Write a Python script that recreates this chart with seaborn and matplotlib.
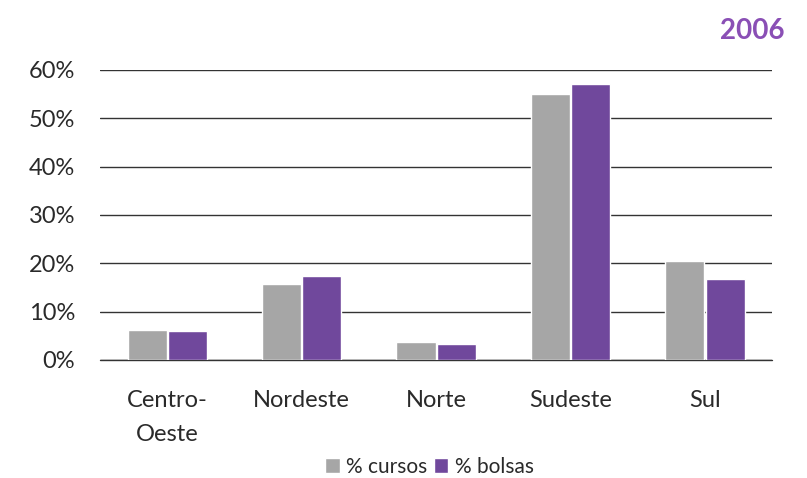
import matplotlib
matplotlib.use("Agg")
import matplotlib.pyplot as plt
import seaborn as sns
import pandas as pd

regioes = ["Centro-\nOeste", "Nordeste", "Norte", "Sudeste", "Sul"]
cursos = [6.2, 15.7, 3.8, 55.0, 20.4]
bolsas = [6.0, 17.3, 3.2, 57.0, 16.8]
series = ["% cursos", "% bolsas"]
ano = "2006"

df = pd.DataFrame({
    "regiao": regioes * 2,
    "valor": cursos + bolsas,
    "serie": [series[0]] * len(regioes) + [series[1]] * len(regioes),
})

sns.set_style("white")
plt.rcParams["font.family"] = ["Lato", "DejaVu Sans"]

fig = plt.figure(figsize=(8.07, 4.78), dpi=100)
ax = fig.add_axes([0.124, 0.247, 0.833, 0.607])

sns.barplot(data=df, x="regiao", y="valor", hue="serie", ax=ax,
            palette=["#a6a6a6", "#70489c"], width=0.6, gap=0.03,
            saturation=1, legend=True)

ax.set_ylim(0, 60)
ax.set_yticks(range(0, 61, 10))
ax.set_yticklabels([f"{v}%" for v in range(0, 61, 10)])
ax.yaxis.grid(True, color="#333333", linewidth=1)
ax.axhline(0, color="#333333", linewidth=1, clip_on=False, zorder=0.5)
ax.set_axisbelow(True)
for s in ax.spines.values():
    s.set_visible(False)
ax.set_xlabel("")
ax.set_ylabel("")
ax.tick_params(axis="both", length=0, labelsize=17, colors="#2a2a2a")
ax.tick_params(axis="x", pad=22)
ax.tick_params(axis="y", pad=18)
for lbl in ax.get_xticklabels():
    lbl.set_linespacing(1.75)

ax.legend(loc="upper center", bbox_to_anchor=(0.49, -0.27), ncol=2,
          frameon=False, fontsize=15, handlelength=0.7, handleheight=0.7,
          handletextpad=0.3, columnspacing=0.3, labelcolor="#2a2a2a")

fig.text(0.972, 0.935, ano, ha="right", va="center", fontsize=20,
         fontweight="bold", color="#8a4fb5")

fig.savefig("out.png", dpi=100)
